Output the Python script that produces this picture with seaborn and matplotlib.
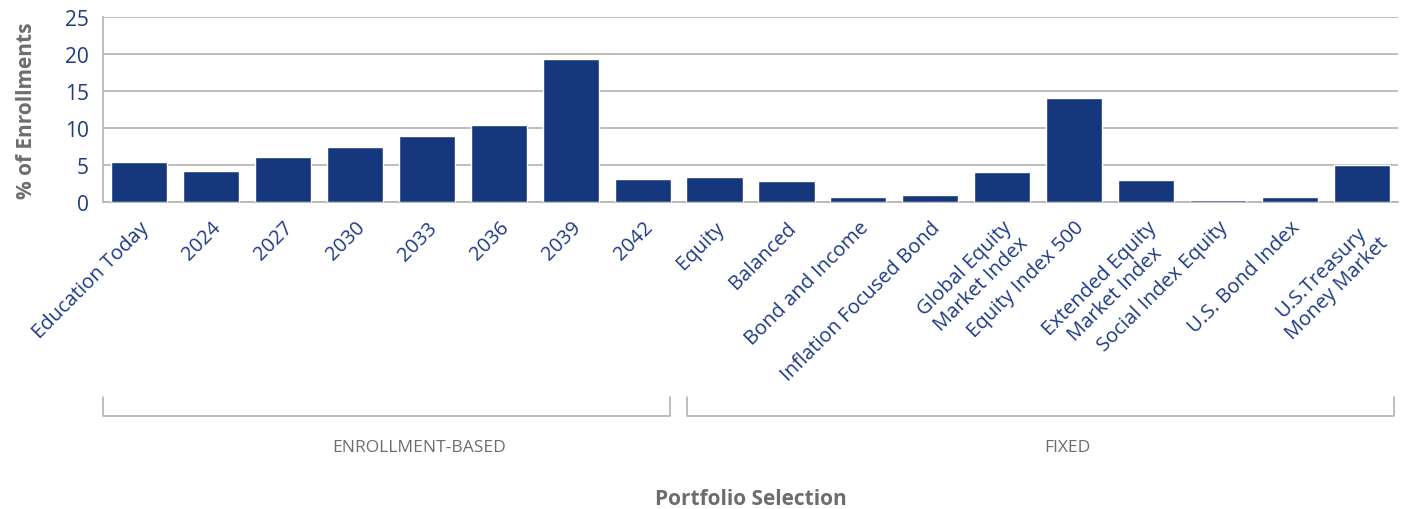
import matplotlib
matplotlib.use("Agg")
import matplotlib.pyplot as plt
import seaborn as sns
import pandas as pd
from matplotlib.transforms import blended_transform_factory

# Portfolio enrollment shares
portfolios = [
    "Education Today", "2024", "2027", "2030", "2033", "2036", "2039", "2042",
    "Equity", "Balanced", "Bond and Income", "Inflation Focused Bond",
    "Global Equity\nMarket Index", "Equity Index 500",
    "Extended Equity\nMarket Index", "Social Index Equity", "U.S. Bond Index",
    "U.S.Treasury\nMoney Market",
]
enrollment_pct = [5.4, 4.2, 6.1, 7.4, 8.9, 10.4, 19.3, 3.1,
                  3.4, 2.9, 0.7, 1.0, 4.0, 14.1, 3.0, 0.2, 0.7, 5.0]
group_names = ["ENROLLMENT-BASED", "FIXED"]
group_sizes = [8, 10]
y_ticks = [0, 5, 10, 15, 20, 25]

sns.set_theme(style="white")
plt.rcParams["font.family"] = ["Open Sans", "DejaVu Sans"]

NAVY = "#17377c"
TICK_NAVY = "#1f3a85"
GRAY = "#6d6d6d"
GRID = "#b3b3b3"

df = pd.DataFrame({"portfolio": portfolios, "pct": enrollment_pct})

fig = plt.figure(figsize=(14.05, 5.10), dpi=100)
ax = fig.add_axes([0.0733, 0.602, 0.9217, 0.363])

sns.barplot(data=df, x="portfolio", y="pct", color=NAVY, saturation=1,
            width=0.78, ax=ax, zorder=3)

ax.set_ylim(0, 25)
ax.set_yticks(y_ticks)
ax.set_xlim(-0.5, len(portfolios) - 0.5)
ax.yaxis.grid(True, color=GRID, linewidth=1.2, zorder=0)
ax.xaxis.grid(False)
for side in ["top", "right"]:
    ax.spines[side].set_visible(False)
ax.spines["bottom"].set_color(GRID)
ax.spines["bottom"].set_linewidth(1.2)
ax.spines["left"].set_color(GRID)
ax.spines["left"].set_linewidth(1.2)

ax.tick_params(axis="y", labelsize=15, labelcolor=TICK_NAVY, length=0, pad=10)
ax.tick_params(axis="x", length=0, pad=11)
ax.set_xticks(range(len(portfolios)))
ax.set_xticklabels(portfolios, rotation=45, ha="right", rotation_mode="anchor",
                   fontsize=14.5, color=TICK_NAVY, multialignment="center",
                   linespacing=1.15)

ax.set_xlabel("")
ax.set_ylabel("% of Enrollments", fontsize=15, fontweight="bold", color=GRAY,
              labelpad=20)

# Group brackets beneath the category labels
trans = blended_transform_factory(ax.transData, ax.transAxes)
y_top, y_bot = -1.054, -1.157
start = -0.5
for name, size in zip(group_names, group_sizes):
    end = start + size
    x0 = start + (0.0 if start == -0.5 else 0.12)
    x1 = end - (0.05 if end == len(portfolios) - 0.5 else 0.12)
    ax.plot([x0, x0, x1, x1], [y_top, y_bot, y_bot, y_top], color=GRID,
            linewidth=1.2, transform=trans, clip_on=False)
    ax.text((start + end) / 2 + 0.4, -1.324, name, transform=trans,
            ha="center", va="center", fontsize=12.5, color=GRAY)
    start = end

ax.text(0.5, -1.6, "Portfolio Selection", transform=ax.transAxes, ha="center",
        va="center", fontsize=15, fontweight="bold", color=GRAY)

fig.savefig("out.png", dpi=100, facecolor="white")
